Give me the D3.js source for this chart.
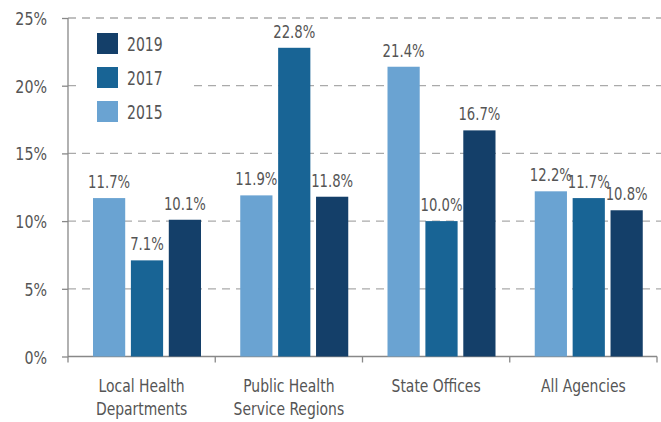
<!DOCTYPE html>
<html>
<head>
<meta charset="utf-8">
<script src="https://cdn.jsdelivr.net/npm/d3@7"></script>
<style>
  body{margin:0;background:#fff;}
  text{font-family:"DejaVu Sans Condensed","Liberation Sans Narrow",sans-serif;fill:#555;}
</style>
</head>
<body>
<div id="container"></div>
<script>
let w=661;
let h=422;

// data
let categories=[["Local Health","Departments"],["Public Health","Service Regions"],["State Offices"],["All Agencies"]];
let years=["2015","2017","2019"];
let v2015=[11.7,11.9,21.4,12.2];
let v2017=[7.1,22.8,10.0,11.7];
let v2019=[10.1,11.8,16.7,10.8];
let yTicks=[0,5,10,15,20,25];
let colors={"2015":"#6aa3d2","2017":"#186495","2019":"#143f69"};

let values={"2015":v2015,"2017":v2017,"2019":v2019};
let catNames=categories.map(c=>c.join(" "));

// squeeze text sideways so it looks like a condensed face
function squeeze(sel,s){
  sel.each(function(){
    let t=d3.select(this);
    let tx=+t.attr("x")||0;
    let ty=+t.attr("y")||0;
    t.attr("x",0).attr("y",0)
     .attr("transform","translate("+tx+","+ty+") scale("+s+",1)");
  });
}

let viz=d3.select("#container").append("svg")
  .attr("width",w).attr("height",h);

let y=d3.scaleLinear().domain([0,25]).range([356.5,18]);
let x0=d3.scaleBand().domain(catNames).range([68,657]);
let x1=d3.scaleBand().domain(years).range([25,133]).paddingInner(0.15);

// gridlines
viz.selectAll(".grid").data(yTicks.filter(d=>d>0)).enter()
  .append("line")
  .attr("x1",68).attr("x2",w)
  .attr("y1",d=>y(d)).attr("y2",d=>y(d))
  .attr("stroke","#aaa").attr("stroke-width",1.3)
  .attr("stroke-dasharray","8,6");

// y axis
let yAxis=d3.axisLeft(y).tickValues(yTicks).tickFormat(d=>d+"%").tickSize(6).tickSizeOuter(0);
let gy=viz.append("g").attr("transform","translate(68,0)").call(yAxis);
gy.select(".domain").remove();
gy.append("line").attr("y1",y(25)).attr("y2",y(0)).attr("stroke","#888").attr("stroke-width",1.3);
gy.selectAll("line").attr("stroke","#888").attr("stroke-width",1.3);
gy.selectAll("text").attr("font-size",18).attr("x",-21).attr("y",6.5).attr("dy",null).style("fill","#555");
squeeze(gy.selectAll("text"),0.88);

// x axis
let gx=viz.append("g").attr("transform","translate(0,356.5)");
gx.append("line").attr("x1",68).attr("x2",657).attr("stroke","#888").attr("stroke-width",1.3);
gx.selectAll(".xt").data(catNames.map(c=>x0(c)).concat([657])).enter()
  .append("line")
  .attr("x1",d=>d).attr("x2",d=>d).attr("y1",0).attr("y2",6)
  .attr("stroke","#888").attr("stroke-width",1.3);
let xl=gx.selectAll(".xl").data(categories).enter()
  .append("g")
  .attr("transform",(d,i)=>"translate("+(x0(catNames[i])+x0.bandwidth()/2)+",0)");
xl.selectAll("text").data(d=>d).enter()
  .append("text")
  .attr("text-anchor","middle")
  .attr("font-size",18)
  .attr("y",(d,i)=>35+i*23)
  .text(d=>d);
squeeze(xl.selectAll("text"),0.86);

// bars
let groups=viz.selectAll(".grp").data(catNames).enter()
  .append("g")
  .attr("transform",d=>"translate("+x0(d)+",0)");
groups.each(function(c,i){
  let g=d3.select(this);
  years.forEach(function(yr){
    let v=values[yr][i];
    g.append("rect")
      .attr("x",x1(yr))
      .attr("y",y(v))
      .attr("width",x1.bandwidth())
      .attr("height",y(0)-y(v))
      .attr("fill",colors[yr]);
    g.append("text")
      .attr("class","lbl")
      .attr("x",x1(yr)+x1.bandwidth()/2)
      .attr("y",y(v)-10)
      .attr("text-anchor","middle")
      .attr("font-size",17.5)
      .text(v.toFixed(1)+"%");
  });
});
squeeze(viz.selectAll(".lbl"),0.84);

// legend
let legend=viz.append("g").attr("transform","translate(97,33)");
legend.append("rect").attr("x",-16).attr("y",-6).attr("width",112).attr("height",100).attr("fill","#fff");
let legendYears=years.slice().reverse();
let li=legend.selectAll(".li").data(legendYears).enter()
  .append("g")
  .attr("transform",(d,i)=>"translate(0,"+(i*34)+")");
li.append("rect").attr("width",21).attr("height",21).attr("fill",d=>colors[d]);
li.append("text").attr("x",30).attr("y",18).attr("font-size",20).text(d=>d);
squeeze(li.selectAll("text"),0.78);
</script>
</body>
</html>
